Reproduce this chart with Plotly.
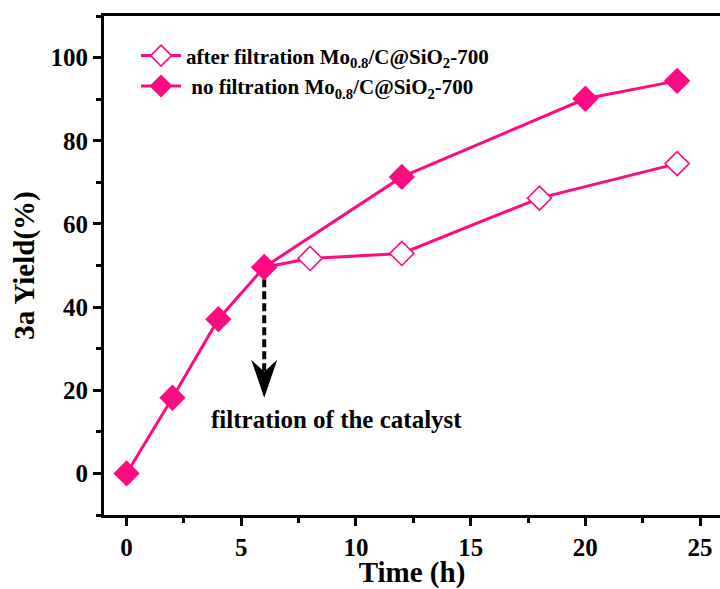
import plotly.graph_objects as go

# ---- data ----
time_no_filt = [0, 2, 4, 6, 12, 20, 24]
yield_no_filt = [0, 18.2, 37.1, 49.6, 71.3, 90.1, 94.4]
time_after_filt = [6, 8, 12, 18, 24]
yield_after_filt = [49.6, 51.7, 52.9, 66.2, 74.5]

name_after = "after filtration Mo<sub>0.8</sub>/C@SiO<sub>2</sub>-700"
name_no = "\u00a0no filtration Mo<sub>0.8</sub>/C@SiO<sub>2</sub>-700"
y_ticks = [0, 20, 40, 60, 80, 100]
x_ticks = [0, 5, 10, 15, 20, 25]
filtration_time = 6
filtration_label = "filtration of the catalyst"

PINK = "#ff0a80"
FONT = "Liberation Serif"

fig = go.Figure()
fig.add_trace(go.Scatter(
    x=time_after_filt, y=yield_after_filt, mode="lines+markers", name=name_after,
    line=dict(color=PINK, width=3),
    marker=dict(symbol="diamond", size=18.5, color="white", line=dict(color=PINK, width=1.6)),
))
fig.add_trace(go.Scatter(
    x=time_no_filt, y=yield_no_filt, mode="lines+markers", name=name_no,
    line=dict(color=PINK, width=3),
    marker=dict(symbol="diamond", size=18.5, color=PINK, line=dict(color=PINK, width=1.6)),
))

# dashed arrow shaft
fig.add_shape(type="line", x0=filtration_time, x1=filtration_time, y0=yield_no_filt[3], y1=24.5,
              xref="x", yref="y", line=dict(color="black", width=4, dash="8px,4px"), layer="below")
# arrow head (pixel-sized, anchored at tip)
fig.add_shape(type="path", xref="x", yref="y", xsizemode="pixel", ysizemode="pixel",
              xanchor=filtration_time, yanchor=18.2,
              path="M0,0 L-13,38 L0,26 L13,38 Z", fillcolor="black", line=dict(width=0))

fig.add_annotation(x=9.13, y=12.9, xref="x", yref="y", text=filtration_label, showarrow=False,
                   font=dict(family=FONT, size=25, color="black", weight="bold"))

fig.update_layout(
    width=720, height=589,
    margin=dict(l=104, r=0, t=16, b=74),
    paper_bgcolor="white", plot_bgcolor="white",
    font=dict(family=FONT, color="black", weight="bold"),
    showlegend=True,
    legend=dict(x=0.052, y=0.961, xanchor="left", yanchor="top", bgcolor="rgba(0,0,0,0)",
                font=dict(family=FONT, size=21, color="black", weight="bold"),
                itemwidth=40, tracegroupgap=0),
    xaxis=dict(range=[-0.985, 25.87], tickvals=x_ticks, showgrid=False, zeroline=False,
               showline=True, linecolor="black", linewidth=3, mirror=True,
               ticks="outside", ticklen=8, tickwidth=3, tickcolor="black",
               minor=dict(dtick=2.5, tick0=0, ticks="outside", ticklen=5, tickwidth=3, tickcolor="black"),
               tickfont=dict(family=FONT, size=25, color="black", weight="bold"),
               title=dict(text="Time (h)", font=dict(family=FONT, size=29, color="black", weight="bold"), standoff=4)),
    yaxis=dict(range=[-10, 110], tickvals=y_ticks, showgrid=False, zeroline=False,
               showline=True, linecolor="black", linewidth=3,
               ticks="outside", ticklen=8, tickwidth=3, tickcolor="black",
               minor=dict(dtick=10, tick0=0, ticks="outside", ticklen=5, tickwidth=3, tickcolor="black"),
               tickfont=dict(family=FONT, size=25, color="black", weight="bold"),
               title=dict(text="3a Yield(%)", font=dict(family=FONT, size=29, color="black", weight="bold"), standoff=8)),
)

fig.write_html("out.html")
